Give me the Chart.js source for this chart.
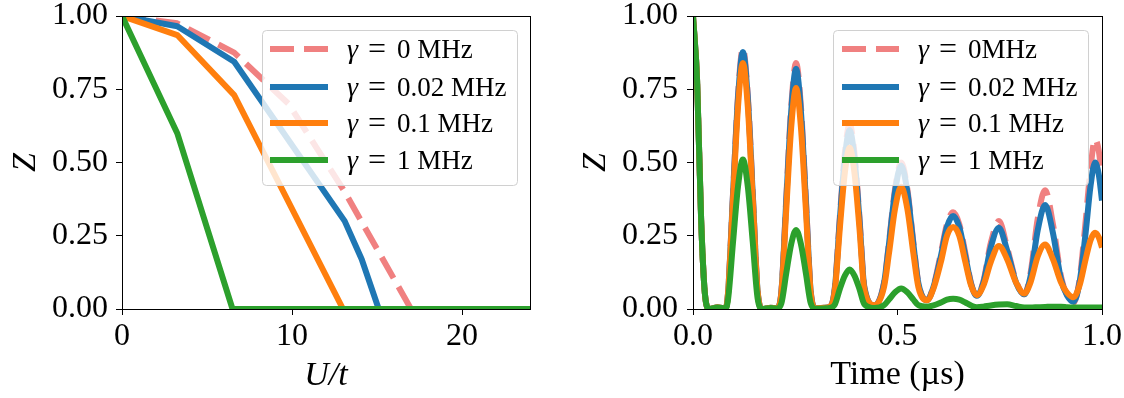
<!DOCTYPE html>
<html>
<head>
<meta charset="utf-8">
<script src="https://cdn.jsdelivr.net/npm/chart.js@4.4.1/dist/chart.umd.min.js"></script>
<style>
  html, body { margin: 0; padding: 0; background: #fff; }
  #wrap { position: relative; width: 1124px; height: 398px; overflow: hidden; }
  .pane { position: absolute; top: 0; width: 562px; height: 398px; }
</style>
</head>
<body>
<div id="wrap">
  <div class="pane" style="left:0"><canvas id="chartU" width="562" height="398"></canvas></div>
  <div class="pane" style="left:562px"><canvas id="chartT" width="562" height="398"></canvas></div>
</div>
<script>
// ---------- data ----------
var LABELS_U = ['γ = 0 MHz', 'γ = 0.02 MHz', 'γ = 0.1 MHz', 'γ = 1 MHz'];
var LABELS_T = ['γ = 0MHz', 'γ = 0.02 MHz', 'γ = 0.1 MHz', 'γ = 1 MHz'];
var COLORS = ['#f08080', '#1f77b4', '#ff7f0e', '#2ca02c'];

var yTicks = [0, 0.25, 0.5, 0.75, 1];
var uTicks = [0, 10, 20];
var tTicks = [0, 0.5, 1];

// left: Z vs U/t
var uPink   = [0, 3.25, 6.6, 9.8, 13.1, 17.0, 24];
var zPink   = [1, 0.975, 0.875, 0.70, 0.40, 0, 0];
var uBlue   = [0, 3.25, 6.6, 13.1, 14.1, 15.1, 24];
var zBlue   = [1, 0.965, 0.844, 0.30, 0.17, 0, 0];
var uOrange = [0, 3.25, 6.6, 13.0, 24];
var zOrange = [1, 0.935, 0.73, 0, 0];
var uGreen  = [0, 3.25, 6.5, 24];
var zGreen  = [1, 0.60, 0, 0];

// right: Z vs time (µs)
var tTime = [
  0, 0.01, 0.02, 0.03, 0.04, 0.06, 0.08,
  0.086, 0.098, 0.110, 0.122, 0.134, 0.146, 0.158,
  0.17, 0.19, 0.205,
  0.216, 0.228, 0.240, 0.252, 0.264, 0.276, 0.288,
  0.30, 0.32, 0.335,
  0.347, 0.359, 0.371, 0.383, 0.395, 0.407, 0.419,
  0.444,
  0.467, 0.479, 0.494, 0.509, 0.524, 0.539, 0.551,
  0.572,
  0.588, 0.606, 0.621, 0.636, 0.651, 0.666, 0.680,
  0.694,
  0.71, 0.728, 0.748, 0.768, 0.79,
  0.81,
  0.825, 0.843, 0.861, 0.88, 0.9, 0.915,
  0.93,
  0.945, 0.96, 0.972, 0.983, 0.992, 1.0
];
var tzPink = [
  1, 0.78, 0.30, 0.04, 0, 0.006, 0.002,
  0.062, 0.40, 0.73, 0.89, 0.73, 0.40, 0.062,
  0, 0.004, 0.003,
  0.059, 0.378, 0.689, 0.84, 0.689, 0.378, 0.059,
  0.002, 0.004, 0.008,
  0.076, 0.315, 0.529, 0.63, 0.529, 0.315, 0.076,
  0.012,
  0.09, 0.225, 0.41, 0.50, 0.41, 0.225, 0.09,
  0.03,
  0.078, 0.19, 0.29, 0.33, 0.29, 0.19, 0.088,
  0.045,
  0.095, 0.225, 0.30, 0.21, 0.095,
  0.05,
  0.12, 0.31, 0.405, 0.29, 0.11, 0.045,
  0.02,
  0.10, 0.30, 0.48, 0.58, 0.54, 0.45
];
var tzBlue = [
  1, 0.78, 0.30, 0.04, 0, 0.006, 0.002,
  0.061, 0.395, 0.719, 0.877, 0.719, 0.395, 0.061,
  0, 0.004, 0.003,
  0.057, 0.369, 0.672, 0.82, 0.672, 0.369, 0.057,
  0.002, 0.004, 0.008,
  0.073, 0.305, 0.512, 0.61, 0.512, 0.305, 0.073,
  0.012,
  0.088, 0.22, 0.40, 0.49, 0.40, 0.22, 0.088,
  0.03,
  0.075, 0.18, 0.28, 0.317, 0.28, 0.18, 0.085,
  0.045,
  0.09, 0.21, 0.277, 0.20, 0.09,
  0.05,
  0.11, 0.27, 0.355, 0.26, 0.10, 0.045,
  0.025,
  0.09, 0.26, 0.42, 0.50, 0.46, 0.37
];
var tzOrange = [
  1, 0.78, 0.30, 0.04, 0, 0.006, 0.002,
  0.059, 0.378, 0.689, 0.84, 0.689, 0.378, 0.059,
  0, 0.004, 0.003,
  0.053, 0.339, 0.618, 0.754, 0.618, 0.339, 0.053,
  0.002, 0.004, 0.008,
  0.066, 0.275, 0.462, 0.55, 0.462, 0.275, 0.066,
  0.013,
  0.075, 0.188, 0.342, 0.417, 0.342, 0.188, 0.075,
  0.03,
  0.07, 0.16, 0.25, 0.28, 0.25, 0.16, 0.08,
  0.047,
  0.08, 0.16, 0.215, 0.17, 0.09,
  0.053,
  0.09, 0.18, 0.22, 0.17, 0.09, 0.055,
  0.04,
  0.08, 0.17, 0.235, 0.26, 0.245, 0.21
];
var tzGreen = [
  1, 0.78, 0.30, 0.04, 0, 0.005, 0.002,
  0.036, 0.23, 0.418, 0.51, 0.418, 0.23, 0.036,
  0, 0.003, 0.002,
  0.019, 0.122, 0.221, 0.27, 0.221, 0.122, 0.019,
  0.001, 0.002, 0.004,
  0.016, 0.068, 0.113, 0.135, 0.113, 0.068, 0.016,
  0.003,
  0.013, 0.032, 0.057, 0.07, 0.057, 0.032, 0.013,
  0.008,
  0.012, 0.022, 0.032, 0.035, 0.032, 0.022, 0.012,
  0.006,
  0.008, 0.012, 0.015, 0.016, 0.01,
  0.005,
  0.005, 0.006, 0.007, 0.008, 0.008, 0.006,
  0.005,
  0.005, 0.005, 0.005, 0.005, 0.005, 0.005
];

// ---------- helpers ----------
var SERIF = '"Liberation Serif", "DejaVu Serif", serif';

function pts(xs, ys) { return ys.map(function (y, i) { return { x: xs[i], y: y }; }); }

function mkSets(xsList, ysList, labels, smooth) {
  return ysList.map(function (ys, i) {
    return {
      label: labels[i], data: pts(xsList[i], ys),
      borderColor: COLORS[i], borderWidth: 6, borderDash: i === 0 ? [24, 10] : [],
      pointRadius: 0, tension: 0, cubicInterpolationMode: smooth ? 'monotone' : 'default',
      borderJoinStyle: 'round', borderCapStyle: 'butt', clip: 0, fill: false, order: 4 - i
    };
  });
}

function roundRect(ctx, x, y, w, h, r) {
  ctx.beginPath();
  ctx.moveTo(x + r, y); ctx.lineTo(x + w - r, y); ctx.arcTo(x + w, y, x + w, y + r, r);
  ctx.lineTo(x + w, y + h - r); ctx.arcTo(x + w, y + h, x + w - r, y + h, r);
  ctx.lineTo(x + r, y + h); ctx.arcTo(x, y + h, x, y + h - r, r);
  ctx.lineTo(x, y + r); ctx.arcTo(x, y, x + r, y, r);
  ctx.closePath();
}

// spines on top/right + matplotlib-style legend box
var framePlugin = {
  id: 'frame',
  afterDatasetsDraw: function (chart, args, o) {
    var a = chart.chartArea, ctx = chart.ctx;
    ctx.save();
    ctx.strokeStyle = '#000'; ctx.lineWidth = 1;
    ctx.strokeRect(Math.round(a.left) + 0.5, Math.round(a.top) + 0.5,
      Math.round(a.right - a.left), Math.round(a.bottom - a.top));

    var b = o.box;
    roundRect(ctx, b[0] + 0.5, b[1] + 0.5, b[2], b[3], 4);
    ctx.fillStyle = 'rgba(255,255,255,0.8)'; ctx.fill();
    ctx.strokeStyle = '#d0d0d0'; ctx.lineWidth = 1; ctx.stroke();

    chart.data.datasets.forEach(function (ds, i) {
      var yy = o.rows[i];
      ctx.beginPath();
      ctx.setLineDash(ds.borderDash); ctx.lineCap = 'butt';
      ctx.lineWidth = ds.borderWidth; ctx.strokeStyle = ds.borderColor;
      ctx.moveTo(o.sample[0], yy); ctx.lineTo(o.sample[1], yy); ctx.stroke();
      ctx.setLineDash([]);
      var parts = ds.label.split(' = ');
      ctx.fillStyle = '#000'; ctx.textBaseline = 'alphabetic';
      ctx.font = 'italic 28px ' + SERIF; ctx.textAlign = 'left';
      ctx.fillText(parts[0], o.textX, yy + 9);
      ctx.font = '32px ' + SERIF; ctx.textAlign = 'center';
      ctx.fillText('=', o.textX + 30, yy + 10);
      ctx.font = '27px ' + SERIF; ctx.textAlign = 'left';
      ctx.fillText(parts[1], o.textX + 50, yy + 9);
    });
    ctx.restore();
  }
};

function mkChart(id, sets, xr, yAxisW, padRight, zPad, xTitlePad, legendOpts) {
  var tickFont = { family: SERIF, size: 32, lineHeight: 1 };
  return new Chart(document.getElementById(id), {
    type: 'line',
    data: { datasets: sets },
    plugins: [framePlugin],
    options: {
      responsive: false, animation: false, devicePixelRatio: 1, events: [],
      layout: { padding: { top: 16, right: padRight, left: 0, bottom: 0 } },
      plugins: { legend: { display: false }, tooltip: { enabled: false }, frame: legendOpts },
      scales: {
        x: {
          type: 'linear', min: xr.min, max: xr.max,
          grid: { drawOnChartArea: false, drawTicks: true, tickLength: 6, color: '#000' },
          border: { display: true, color: '#000', width: 1 },
          ticks: { font: tickFont, color: '#000', padding: 6, maxRotation: 0, callback: xr.fmt },
          afterBuildTicks: function (s) { s.ticks = xr.ticks.map(function (v) { return { value: v }; }); },
          title: { display: true, text: xr.title, color: '#000',
            font: { family: SERIF, size: 34, style: xr.italic ? 'italic' : 'normal' },
            padding: { top: 0, bottom: xTitlePad } },
          afterFit: function (s) { s.height = 89; s.paddingLeft = 0; s.paddingRight = 0; }
        },
        y: {
          type: 'linear', min: 0, max: 1,
          grid: { drawOnChartArea: false, drawTicks: true, tickLength: 6, color: '#000' },
          border: { display: true, color: '#000', width: 1 },
          ticks: { font: tickFont, color: '#000', padding: xr.yPad,
            callback: function (v) { return Number(v).toFixed(2); } },
          afterBuildTicks: function (s) { s.ticks = yTicks.map(function (v) { return { value: v }; }); },
          title: { display: true, text: 'Z', color: '#000',
            font: { family: SERIF, size: 34, style: 'italic' },
            padding: { top: zPad, bottom: 0 } },
          afterFit: function (s) { s.width = yAxisW; s.paddingTop = 0; s.paddingBottom = 0; }
        }
      }
    }
  });
}

Chart.defaults.color = '#000';

mkChart('chartU',
  mkSets([uPink, uBlue, uOrange, uGreen], [zPink, zBlue, zOrange, zGreen], LABELS_U, false),
  { min: 0, max: 24, ticks: uTicks, title: 'U/t', italic: true, yPad: 8,
    fmt: function (v) { return String(v); } },
  122, 32, 5.6, 1.6,
  { box: [262, 30, 255, 155], sample: [270, 328], textX: 347, rows: [49, 87, 123, 160] });

mkChart('chartT',
  mkSets([tTime, tTime, tTime, tTime], [tzPink, tzBlue, tzOrange, tzGreen], LABELS_T, true),
  { min: 0, max: 1, ticks: tTicks, title: 'Time (µs)', italic: false, yPad: 9,
    fmt: function (v) { return Number(v).toFixed(1); } },
  131, 22, 13.6, 2.6,
  { box: [271, 30, 255, 155], sample: [280, 337], textX: 356, rows: [49, 87, 123, 160] });
</script>
</body>
</html>
